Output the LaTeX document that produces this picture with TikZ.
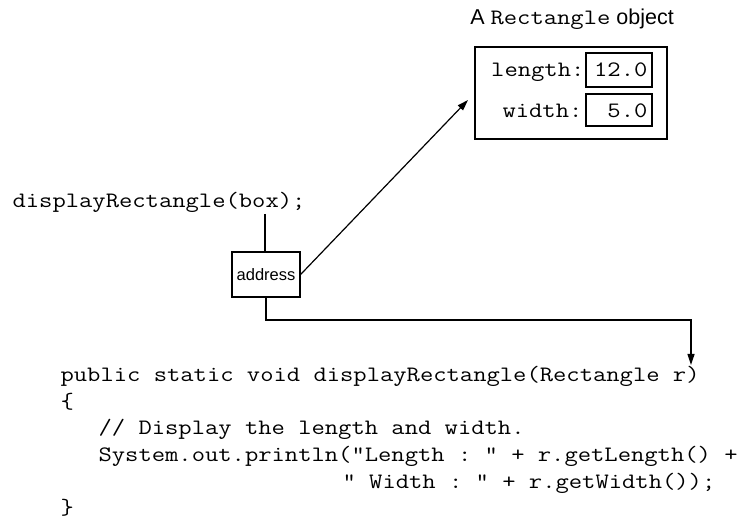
\documentclass[tikz,border=0pt]{standalone}
\usepackage{fontspec}
\setmainfont{Liberation Sans}
\setmonofont{Latin Modern Mono}[FakeStretch=1.175]
\usetikzlibrary{arrows.meta}
\begin{document}
\begin{tikzpicture}[x=1pt,y=-1pt,
  line width=1.2pt,
  mono/.style={font=\fontsize{22}{26}\selectfont\ttfamily, inner sep=0pt},
  codeline/.style={mono, anchor=base west},
  box/.style={draw, inner sep=0pt},
  arr/.style={-{Triangle[length=11pt,width=7pt]}}
]
\useasboundingbox (0,0) rectangle (753,529);

% title
\node[anchor=base, inner sep=0pt, font=\fontsize{21.5}{24}\selectfont] (title) at (572,25)
  {A {\fontsize{22}{26}\selectfont\ttfamily Rectangle} object};

% object box
\node[box, minimum width=192pt, minimum height=92pt] (obj) at (571,93) {};
\node[box, minimum width=66pt, minimum height=34pt] (lenbox) at (619,70) {};
\node[box, minimum width=66pt, minimum height=32pt] (widbox) at (619,110) {};
\node[mono, anchor=base east] (lenlbl) at (585,77) {length:};
\node[mono, anchor=base east] (widlbl) at (583,118) {width:};
\node[mono, anchor=base east] (lenval) at (648,77) {12.0};
\node[mono, anchor=base east] (widval) at (648,118) {5.0};

% call
\node[codeline] (call) at (12,208) {displayRectangle(box);};
\node[box, minimum width=68pt, minimum height=45pt, font=\fontsize{16.5}{18}\selectfont] (addr) at (266,274.5) {address};
\coordinate (callpt) at (265,214);
\draw (callpt) -- (callpt |- addr.north);

% arrow to object
\coordinate (objtip) at (468,100);
\draw[arr] (addr.east) -- (objtip);

% arrow to parameter
\coordinate (rtip) at (691,365);
\draw[arr] (addr.south) |- (691,320) -- (rtip);

% code
\node[codeline] (c1) at (60,382) {public static void displayRectangle(Rectangle r)};
\node[codeline] (c2) at (60,408.5) {\{};
\node[codeline] (c3) at (98,435) {// Display the length and width.};
\node[codeline] (c4) at (98,461.5) {System.out.println("Length : " + r.getLength() +};
\node[codeline] (c5) at (342,488) {" Width : " + r.getWidth());};
\node[codeline] (c6) at (60,514.5) {\}};
\end{tikzpicture}
\end{document}
